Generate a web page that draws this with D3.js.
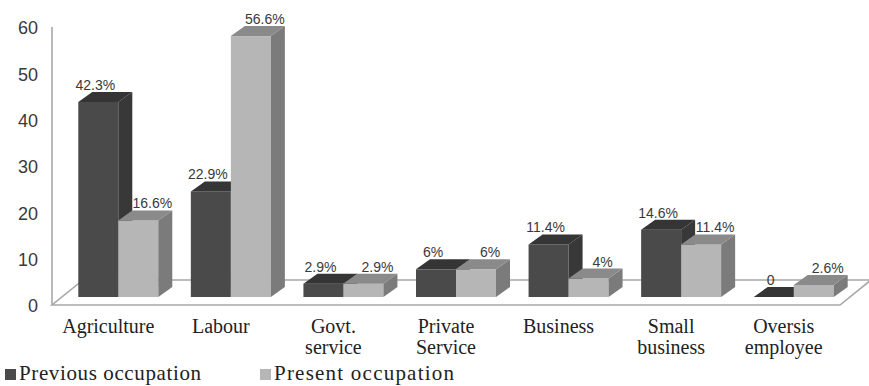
<!DOCTYPE html>
<html>
<head>
<meta charset="utf-8">
<script src="https://cdn.jsdelivr.net/npm/d3@7/dist/d3.min.js"></script>
<style>
  html, body { margin: 0; padding: 0; background: #fff; }
  svg { display: block; }
</style>
</head>
<body>
<svg id="chart" width="869" height="386"></svg>
<script>
// Occupation categories (line breaks mark wrapped labels)
const categories = ["Agriculture", "Labour", "Govt.\nservice", "Private\nService", "Business", "Small\nbusiness", "Oversis\nemployee"];
const previousOccupation = [42.3, 22.9, 2.9, 6, 11.4, 14.6, 0];
const presentOccupation  = [16.6, 56.6, 2.9, 6, 4, 11.4, 2.6];
const valueLabelsPrevious = ["42.3%", "22.9%", "2.9%", "6%", "11.4%", "14.6%", "0"];
const valueLabelsPresent  = ["16.6%", "56.6%", "2.9%", "6%", "4%", "11.4%", "2.6%"];
const yTicks = [0, 10, 20, 30, 40, 50, 60];
const seriesNames = ["Previous occupation", "Present occupation"];

const svg = d3.select("#chart");

// Floor geometry: front edge and depth shift of the 3D plot area
const floorFront = 305, floorLeft = 52, floorRight = 840;
const depthX = 31, depthY = -25;
const midX = 10;              // bars stand at mid depth
const barBase = 297;
const barW = 40;
const barDX = 14, barDY = -10; // bar thickness (3D offset)

const x = d3.scaleBand().domain(categories).range([floorLeft, floorRight]);
const yBar = d3.scaleLinear().domain([0, 60]).range([barBase, barBase - 60 * 4.61]);
const yAxisScale = d3.scaleLinear().domain([0, 60]).range([306, 28]);

// Floor
svg.append("polygon")
  .attr("points", [
    [floorLeft, floorFront], [floorRight, floorFront],
    [floorRight + depthX, floorFront + depthY], [floorLeft + depthX, floorFront + depthY]
  ].map(p => p.join(",")).join(" "))
  .attr("fill", "#fff")
  .attr("stroke", "#a8a8a8")
  .attr("stroke-width", 1.6);

// Vertical axis line
svg.append("line")
  .attr("x1", floorLeft).attr("x2", floorLeft)
  .attr("y1", yAxisScale(60) - 1).attr("y2", floorFront)
  .attr("stroke", "#a8a8a8").attr("stroke-width", 1.6);

// Y tick labels
const yAxis = d3.axisLeft(yAxisScale).tickValues(yTicks).tickSize(0).tickPadding(0).tickFormat(d3.format("d"));
const yg = svg.append("g").attr("transform", "translate(38,0)").call(yAxis);
yg.select(".domain").remove();
yg.selectAll("text")
  .attr("font-family", "'Liberation Sans', Arial, sans-serif")
  .attr("font-size", 18)
  .attr("fill", "#3a3a3a");

// 3D bar drawing
const palettes = [
  { front: "#4a4a4a", top: "#353535", side: "#383838" },
  { front: "#b6b6b6", top: "#8a8a8a", side: "#7b7b7b" }
];

function drawBar(g, x0, value, pal) {
  const yTop = yBar(value);
  const x1 = x0 + barW;
  // front face
  g.append("rect")
    .attr("x", x0).attr("y", yTop)
    .attr("width", barW).attr("height", barBase - yTop)
    .attr("fill", pal.front);
  // side face
  g.append("polygon")
    .attr("points", [[x1, yTop], [x1 + barDX, yTop + barDY], [x1 + barDX, barBase + barDY], [x1, barBase]]
      .map(p => p.join(",")).join(" "))
    .attr("fill", pal.side);
  // top face
  g.append("polygon")
    .attr("points", [[x0, yTop], [x0 + barDX, yTop + barDY], [x1 + barDX, yTop + barDY], [x1, yTop]]
      .map(p => p.join(",")).join(" "))
    .attr("fill", pal.top);
}

const bars = svg.append("g");
const labels = svg.append("g")
  .attr("font-family", "'Liberation Sans', Arial, sans-serif")
  .attr("font-size", 14)
  .attr("fill", "#3a3a3a")
  .attr("text-anchor", "middle");

categories.forEach((c, i) => {
  const cx = x(c) + x.bandwidth() / 2 + midX;
  const series = [previousOccupation[i], presentOccupation[i]];
  const texts = [valueLabelsPrevious[i], valueLabelsPresent[i]];
  series.forEach((v, s) => {
    const x0 = cx - barW + s * barW;
    drawBar(bars, x0, v, palettes[s]);
    labels.append("text")
      .attr("x", x0 + barW / 2 + (s === 0 ? -3 : 14))
      .attr("y", yBar(v) - 12)
      .text(texts[s]);
  });
});

// Category labels
const catG = svg.append("g")
  .attr("font-family", "'Liberation Serif', 'Times New Roman', serif")
  .attr("font-size", 20)
  .attr("fill", "#222")
  .attr("text-anchor", "middle");
categories.forEach(c => {
  const t = catG.append("text")
    .attr("x", x(c) + x.bandwidth() / 2)
    .attr("y", 333);
  c.split("\n").forEach((line, k) => {
    t.append("tspan")
      .attr("x", x(c) + x.bandwidth() / 2)
      .attr("dy", k === 0 ? 0 : 21)
      .text(line);
  });
});

// Legend
const legend = svg.append("g")
  .attr("font-family", "'Liberation Serif', 'Times New Roman', serif")
  .attr("font-size", 21)
  .attr("fill", "#222");
const legendX = [5, 260];
seriesNames.forEach((name, s) => {
  legend.append("rect")
    .attr("x", legendX[s]).attr("y", 369)
    .attr("width", 11).attr("height", 11)
    .attr("fill", s === 0 ? "#4a4a4a" : "#b6b6b6");
  legend.append("text")
    .attr("x", legendX[s] + 14).attr("y", 380)
    .attr("textLength", s === 0 ? 182 : 180)
    .text(name);
});
</script>
</body>
</html>
